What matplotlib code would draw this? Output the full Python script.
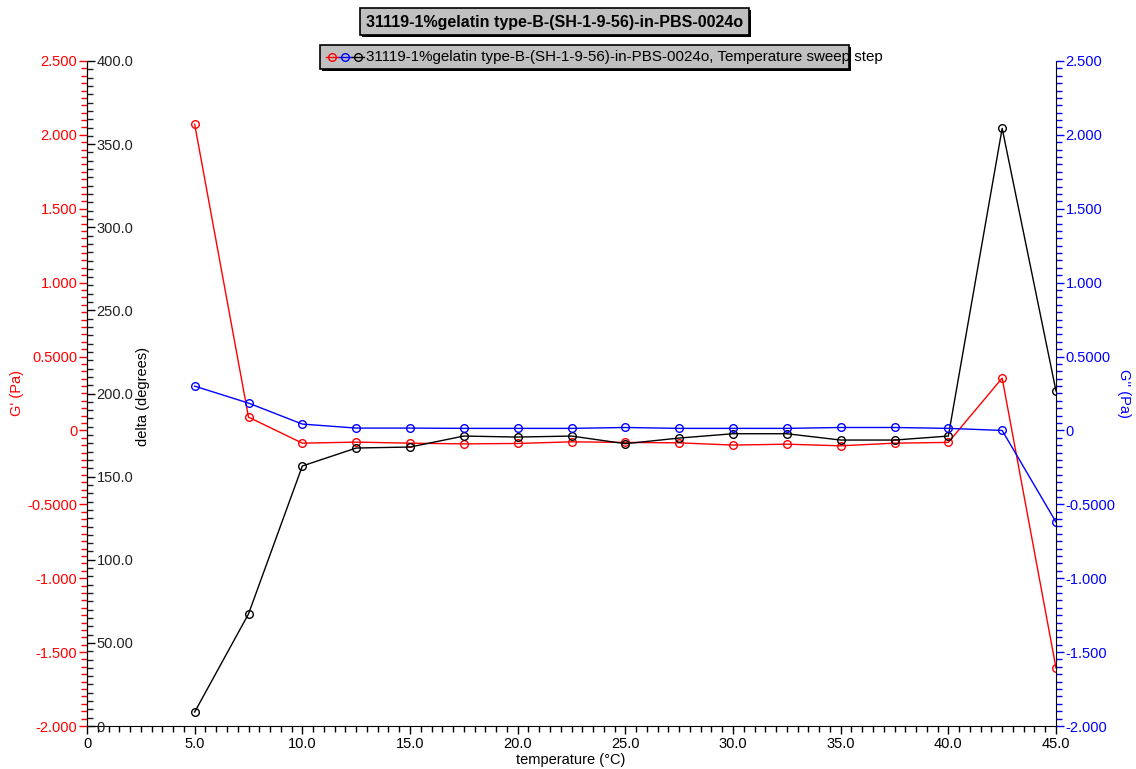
import matplotlib.pyplot as plt
from matplotlib.ticker import MultipleLocator
from matplotlib.patches import Rectangle
from matplotlib.lines import Line2D

plt.rcParams['font.family'] = ['Liberation Sans', 'DejaVu Sans']

# temperature sweep data
temperature = [5.0, 7.5, 10.0, 12.5, 15.0, 17.5, 20.0, 22.5, 25.0,
               27.5, 30.0, 32.5, 35.0, 37.5, 40.0, 42.5, 45.0]
g_prime = [2.072, 0.090, -0.086, -0.079, -0.086, -0.091, -0.088, -0.077, -0.081,
           -0.084, -0.099, -0.093, -0.104, -0.086, -0.081, 0.354, -1.608]
g_double_prime = [0.300, 0.185, 0.043, 0.016, 0.016, 0.014, 0.014, 0.014, 0.020,
                  0.014, 0.014, 0.014, 0.020, 0.020, 0.014, 0.000, -0.620]
delta = [8.4, 67.4, 156.4, 167.2, 167.8, 174.4, 173.8, 174.4, 169.8,
         173.2, 175.8, 175.8, 172.0, 172.0, 174.4, 359.5, 201.5]

x_ticks = [0, 5, 10, 15, 20, 25, 30, 35, 40, 45]
x_tick_labels = ['0', '5.0', '10.0', '15.0', '20.0', '25.0', '30.0', '35.0', '40.0', '45.0']
g_ticks = [2.5, 2.0, 1.5, 1.0, 0.5, 0.0, -0.5, -1.0, -1.5, -2.0]
g_tick_labels = ['2.500', '2.000', '1.500', '1.000', '0.5000', '0',
                 '-0.5000', '-1.000', '-1.500', '-2.000']
delta_ticks = [400, 350, 300, 250, 200, 150, 100, 50, 0]
delta_tick_labels = ['400.0', '350.0', '300.0', '250.0', '200.0', '150.0', '100.0', '50.00', '0']

title = '31119-1%gelatin type-B-(SH-1-9-56)-in-PBS-0024o'
series_name = '31119-1%gelatin type-B-(SH-1-9-56)-in-PBS-0024o, Temperature sweep step'

RED = '#ff0000'
BLUE = '#0000ff'
FS = 10.5

W, H = 1136, 769
fig = plt.figure(figsize=(W / 100, H / 100), dpi=100)


def fx(px):
    return px / W


def fy(py):
    return 1 - py / H


ax = fig.add_axes([fx(87), fy(726), (1056 - 87) / W, (726 - 61) / H])
ax_d = ax.twinx()
ax_b = ax.twinx()

line_kw = dict(marker='o', mfc='none', ms=5.5, mew=1, lw=1)

# G' on the left (red) axis
ax.plot(temperature, g_prime, color=RED, **line_kw)
ax.set_xlim(0, 45)
ax.set_ylim(-2.0, 2.5)
ax.set_xticks(x_ticks, x_tick_labels)
ax.xaxis.set_minor_locator(MultipleLocator(0.5))
ax.tick_params(axis='x', which='major', direction='out', length=6, width=1,
               labelsize=FS, pad=2)
ax.tick_params(axis='x', which='minor', direction='out', length=4, width=1)
ax.set_yticks(g_ticks, g_tick_labels)
ax.yaxis.set_minor_locator(MultipleLocator(0.05))
ax.tick_params(axis='y', which='major', direction='out', length=6, width=1,
               colors=RED, labelsize=FS, pad=1)
ax.tick_params(axis='y', which='minor', direction='out', length=4, width=1, colors=RED)
ax.spines['top'].set_visible(False)
ax.spines['right'].set_visible(False)

# delta on a second scale sharing the left spine, labels inside the plot
ax_d.plot(temperature, delta, color='black', **line_kw)
ax_d.set_ylim(0, 400)
for s in ['top', 'left', 'bottom']:
    ax_d.spines[s].set_visible(False)
ax_d.spines['right'].set_position(('axes', 0))
ax_d.set_yticks(delta_ticks, delta_tick_labels)
ax_d.yaxis.set_minor_locator(MultipleLocator(5))
ax_d.tick_params(axis='y', which='major', direction='out', length=6, width=1,
                 colors='black', labelcolor='#222222', labelsize=FS, pad=1)
ax_d.tick_params(axis='y', which='minor', direction='out', length=4, width=1, colors='#222222')

# G'' on the right (blue) axis
ax_b.plot(temperature, g_double_prime, color=BLUE, **line_kw)
ax_b.set_ylim(-2.0, 2.5)
for s in ['top', 'left', 'bottom']:
    ax_b.spines[s].set_visible(False)
ax_b.set_yticks(g_ticks, g_tick_labels)
ax_b.yaxis.set_minor_locator(MultipleLocator(0.05))
ax_b.tick_params(axis='y', which='major', direction='out', length=6, width=1,
                 colors=BLUE, labelsize=FS, pad=1)
ax_b.tick_params(axis='y', which='minor', direction='out', length=4, width=1, colors=BLUE)

# axis titles
fig.text(fx(17), fy(393), "G' (Pa)", rotation=90, color=RED, ha='center', va='center', fontsize=FS)
fig.text(fx(143), fy(396), 'delta (degrees)', rotation=90, color='black',
         ha='center', va='center', fontsize=FS)
fig.text(fx(1124), fy(393), "G'' (Pa)", rotation=270, color=BLUE, ha='center', va='center', fontsize=FS)
fig.text(fx(571), fy(760), 'temperature (\u00b0C)', ha='center', va='center', fontsize=FS)


def boxed(left, top, right, bottom):
    # grey panel with a dark drop shadow
    fig.add_artist(Rectangle((fx(left + 2), fy(bottom + 2)), (right - left) / W, (bottom - top) / H,
                             transform=fig.transFigure, facecolor='black', edgecolor='none', zorder=1))
    fig.add_artist(Rectangle((fx(left), fy(bottom)), (right - left) / W, (bottom - top) / H,
                             transform=fig.transFigure, facecolor='#c0c0c0', edgecolor='black',
                             lw=1.2, zorder=2))


# title panel
boxed(360, 8, 749, 35)
fig.text(fx(554.5), fy(22), title, ha='center', va='center', fontsize=11.5,
         fontweight='bold', zorder=3)

# legend panel
boxed(320, 45, 849, 69)
for cx, col in [(332, RED), (345, BLUE), (358, 'black')]:
    fig.add_artist(Line2D([fx(cx - 6), fx(cx + 6)], [fy(57), fy(57)], transform=fig.transFigure,
                          color=col, lw=1, zorder=3))
    fig.add_artist(Line2D([fx(cx)], [fy(57)], transform=fig.transFigure, color=col,
                          marker='o', mfc='none', ms=5.5, mew=1, zorder=3))
fig.text(fx(366), fy(57), series_name, ha='left', va='center', fontsize=10.9, zorder=3)

fig.savefig('out.png', dpi=100)
